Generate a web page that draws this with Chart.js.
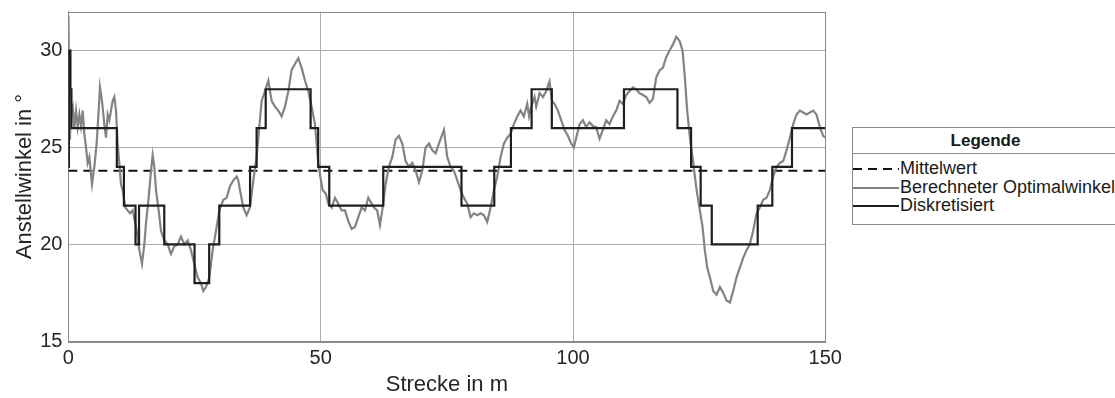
<!DOCTYPE html>
<html>
<head>
<meta charset="utf-8">
<script src="https://cdn.jsdelivr.net/npm/chart.js@4.4.1/dist/chart.umd.min.js"></script>
<style>
html,body{margin:0;padding:0;background:#fff;}
#wrap{position:relative;width:1115px;height:398px;overflow:hidden;font-family:"Liberation Sans",Arial,sans-serif;}
#c{position:absolute;left:0;top:0;}
#legend{position:absolute;left:852px;top:127px;width:275px;height:98px;border:1px solid #8c8c8c;background:#fff;box-sizing:border-box;color:#1a1a1a;}
#legend .ttl{position:absolute;left:0;right:0;top:0;height:26px;line-height:26px;text-align:center;font-weight:bold;font-size:17px;border-bottom:1px solid #8c8c8c;box-sizing:border-box;padding-right:8px;}
#legend .row{position:absolute;left:0;height:19px;line-height:19px;font-size:18px;white-space:nowrap;}
#legend .row svg{display:inline-block;vertical-align:middle;margin-right:1px;}
</style>
</head>
<body>
<div id="wrap">
<canvas id="c" width="1115" height="398"></canvas>
<div id="legend"><div class="ttl">Legende</div></div>
</div>
<script>
// ---- Data ----
const xTicks = [0, 50, 100, 150];
const yTicks = [15, 20, 25, 30];
const meanValue = 23.8;
const meanX = [0, 150];

const optX = [0, 0.15, 0.3, 0.5, 0.85, 1.18, 1.51, 1.84, 2.17, 2.5, 2.83, 3.16, 3.49, 3.82, 4.15, 4.68, 5.14, 5.6, 6.0, 6.26, 6.66, 7.12, 7.45, 7.78, 8.11, 8.44, 8.77, 9.1, 9.43, 9.76, 10.09, 10.42, 10.75, 11.28, 11.74, 12.2, 12.73, 13.4, 13.73, 14.06, 14.58, 15.05, 15.38, 15.9, 16.37, 16.7, 17.03, 17.36, 17.89, 18.35, 19.01, 19.67, 20.33, 20.99, 21.65, 22.31, 22.97, 23.63, 24.29, 24.95, 25.61, 26.27, 26.74, 27.27, 27.93, 28.59, 29.25, 29.91,
  30.7, 31.36, 32.02, 32.68, 33.34, 33.67, 34.0, 34.66, 35.32, 35.98, 36.65, 37.3, 37.83, 38.3, 38.96, 39.62, 39.95, 40.28, 40.94, 41.6, 42.26, 42.92, 43.58, 44.24, 44.9, 45.56, 46.22, 46.88, 47.54, 48.2, 48.86, 49.2, 49.52, 49.86, 50.38, 51.04, 51.5, 52.17, 52.83, 53.49, 54.15, 54.81, 55.47, 56.13, 56.79, 57.45, 58.11, 58.77, 59.43, 60.09,
  60.55, 61.2, 61.74, 62.2, 62.86, 63.52, 64.18, 64.84, 65.5, 66.16, 66.82, 67.49, 68.15, 68.81, 69.47, 70.13, 70.79, 71.45, 72.11, 72.77, 73.43, 74.42, 75.08, 75.74, 76.4, 77.06, 77.72, 78.38, 79.04, 79.7, 80.37, 81.03, 81.69, 82.35, 83.0, 83.67, 84.33, 84.99, 85.65, 86.31, 86.97, 87.63, 88.29, 88.95, 89.61, 90.27, 90.93,
  91.3, 91.72, 92.38, 92.71, 93.37, 94.03, 94.69, 95.35, 95.82, 96.34, 97.0, 97.67, 98.33, 98.99, 99.65, 100.17, 100.64, 101.3, 101.96, 102.62, 103.28, 103.94, 104.6, 105.26, 105.92, 106.58, 107.24, 107.9, 108.56, 109.22, 109.88, 110.54, 111.2, 111.87, 112.53, 113.19, 113.85, 114.51, 115.17, 115.83, 116.49, 117.15, 117.81, 118.47, 119.13, 119.79, 120.45, 121.11,
  121.71, 122.17, 122.63, 123.16, 123.69, 124.15, 124.61, 125.14, 125.67, 126.13, 126.6, 127.12, 127.79, 128.45, 129.11, 129.77, 130.43, 131.09, 131.75, 132.41, 133.07, 133.73, 134.39, 135.05, 135.71, 136.37, 137.03, 137.69, 138.35, 139.01, 139.67, 140.33, 141.0, 141.66, 142.32, 142.98, 143.64, 144.3, 144.96, 145.62, 146.28, 146.94, 147.6, 148.26, 148.92, 149.58, 150];

const optY = [31.8, 28.5, 25.4, 26.8, 27.1, 26.05, 26.9, 26.05, 26.7, 26.1, 26.9, 25.7, 25.0, 24.2, 24.5, 23.1, 24.0, 25.2, 26.9, 28.1, 27.4, 26.2, 25.5, 26.7, 26.4, 26.9, 27.4, 27.6, 26.9, 25.2, 24.2, 23.1, 22.8, 21.9, 21.75, 21.6, 21.75, 20.9, 20.4, 19.7, 19.0, 20.0, 21.1, 22.4, 23.8, 24.6, 24.0, 22.8, 21.75, 20.7, 20.2, 20.0, 19.5, 19.9, 20.0, 20.4, 20.0, 20.2, 19.7, 19.0, 18.3, 18.0, 17.6, 17.8, 18.3, 19.7, 20.7, 21.75,
  22.3, 22.4, 23.0, 23.3, 23.5, 23.3, 22.8, 21.9, 21.5, 21.9, 23.3, 24.5, 26.05, 27.4, 27.9, 28.45, 27.9, 27.4, 27.1, 26.9, 26.6, 27.1, 27.9, 29.0, 29.3, 29.6, 29.1, 28.45, 27.9, 27.1, 26.2, 25.2, 24.2, 23.6, 22.8, 22.6, 22.1, 21.9, 22.4, 22.1, 21.75, 21.75, 21.2, 20.8, 20.9, 21.4, 21.9, 21.75, 22.4, 22.1,
  21.9, 21.75, 21.0, 21.75, 23.1, 24.0, 24.5, 25.4, 25.6, 25.2, 24.3, 24.0, 24.2, 23.8, 23.2, 23.8, 25.0, 25.2, 24.85, 24.7, 25.2, 25.9, 24.5, 24.0, 23.8, 23.3, 22.8, 22.4, 22.1, 21.4, 21.6, 21.5, 21.6, 21.5, 21.15, 21.9, 22.8, 23.5, 24.5, 25.2, 25.5, 25.7, 26.2, 26.6, 26.9, 26.6, 27.25,
  26.6, 27.1, 27.6, 27.1, 27.8, 27.6, 27.9, 28.4, 27.4, 27.25, 26.9, 26.4, 25.9, 25.6, 25.2, 25.0, 25.5, 26.2, 26.4, 26.05, 26.3, 26.1, 26.05, 25.45, 25.9, 26.4, 26.2, 26.6, 26.9, 27.4, 27.25, 27.7, 27.9, 28.1, 28.0, 27.8, 27.7, 27.6, 27.3, 27.5, 28.6, 28.97, 29.1, 29.65, 30.0, 30.3, 30.7, 30.5,
  30.0, 28.6, 26.9, 25.5, 24.5, 23.5, 22.6, 21.75, 20.9, 19.7, 18.8, 18.3, 17.6, 17.4, 17.8, 17.5, 17.1, 17.0, 17.6, 18.3, 18.8, 19.3, 19.7, 20.0, 20.7, 21.6, 21.9, 22.3, 22.4, 22.8, 23.5, 24.0, 24.2, 24.3, 24.85, 25.5, 26.2, 26.7, 26.9, 26.8, 26.7, 26.8, 26.9, 26.7, 26.05, 25.6, 25.5];

const stepX = [0, 0.1, 0.4, 0.6, 9.6, 11.0, 13.3, 14.0, 19.0, 25.0, 27.9, 29.9, 36.0, 37.3, 39.1, 48.0, 49.5, 51.7, 62.4, 77.9, 84.4, 87.7, 91.8, 95.8, 110.1, 120.7, 123.4, 125.3, 127.5, 136.6, 139.5, 143.4, 150];
const stepY = [24, 30, 28, 26, 24, 22, 20, 22, 20, 18, 20, 22, 24, 26, 28, 26, 24, 22, 24, 22, 24, 26, 28, 26, 28, 26, 24, 22, 20, 22, 24, 26, 26];

const labels = ['Mittelwert', 'Berechneter Optimalwinkel', 'Diskretisiert'];

// ---- Chart ----
const FONT = '"Liberation Sans", Arial, sans-serif';
const TXT = '#262626';
const GRID = '#ababab';
const BOX = '#8a8a8a';

const boxPlugin = {
  id: 'box',
  beforeDatasetsDraw(chart) {
    const {ctx, chartArea: a} = chart;
    ctx.save();
    ctx.strokeStyle = BOX;
    ctx.lineWidth = 1;
    ctx.strokeRect(Math.round(a.left) + 0.5, Math.round(a.top) + 0.5, Math.round(a.right - a.left), Math.round(a.bottom - a.top));
    ctx.restore();
  }
};

const noPad = s => { s.paddingTop = 0; s.paddingBottom = 0; s.paddingLeft = 0; s.paddingRight = 0; };

const chart = new Chart(document.getElementById('c'), {
  type: 'line',
  data: {
    datasets: [
      { label: labels[0], data: meanX.map(x => ({x, y: meanValue})), borderColor: '#111111', borderWidth: 2, borderDash: [9, 6], pointRadius: 0, order: 2 },
      { label: labels[1], data: optX.map((x, i) => ({x, y: optY[i]})), borderColor: '#838383', borderWidth: 2.2, pointRadius: 0, tension: 0, order: 1 },
      { label: labels[2], data: stepX.map((x, i) => ({x, y: stepY[i]})), borderColor: '#1e1e1e', borderWidth: 2.2, stepped: 'before', pointRadius: 0, order: 0 }
    ]
  },
  options: {
    responsive: false,
    animation: false,
    events: [],
    layout: { padding: { left: 0, right: 1115 - 825.3, top: 11.7, bottom: 0 } },
    plugins: { legend: { display: false }, tooltip: { enabled: false } },
    scales: {
      x: {
        type: 'linear', min: 0, max: 150,
        afterBuildTicks: s => { s.ticks = xTicks.map(v => ({value: v})); },
        afterFit: s => { s.height = 398 - 341.3; noPad(s); },
        grid: { color: GRID, lineWidth: 1, drawTicks: false },
        border: { color: BOX },
        ticks: { padding: 5, maxRotation: 0, color: TXT, font: { family: FONT, size: 20 } },
        title: { display: true, text: 'Strecke in m', color: TXT, font: { family: FONT, size: 22 }, padding: { top: 0, bottom: 0 } }
      },
      y: {
        type: 'linear', min: 15, max: 32,
        afterBuildTicks: s => { s.ticks = yTicks.map(v => ({value: v})); },
        afterFit: s => { s.width = 68.4; noPad(s); },
        grid: { color: GRID, lineWidth: 1, drawTicks: false },
        border: { color: BOX },
        ticks: { padding: 6, color: TXT, font: { family: FONT, size: 20 } },
        title: { display: true, text: 'Anstellwinkel in °', color: TXT, font: { family: FONT, size: 22 }, padding: { top: 12, bottom: 0 } }
      }
    }
  },
  plugins: [boxPlugin]
});

// ---- Legend (HTML, built from the datasets) ----
const leg = document.getElementById('legend');
chart.data.datasets.forEach((ds, i) => {
  const row = document.createElement('div');
  row.className = 'row';
  row.style.top = (31 + i * 18.5) + 'px';
  const svgNS = 'http://www.w3.org/2000/svg';
  const svg = document.createElementNS(svgNS, 'svg');
  svg.setAttribute('width', '46'); svg.setAttribute('height', '10');
  const ln = document.createElementNS(svgNS, 'line');
  ln.setAttribute('x1', '0'); ln.setAttribute('x2', '46'); ln.setAttribute('y1', '5'); ln.setAttribute('y2', '5');
  ln.setAttribute('stroke', ds.borderColor);
  ln.setAttribute('stroke-width', ds.borderWidth);
  if (ds.borderDash) ln.setAttribute('stroke-dasharray', '9 6');
  svg.appendChild(ln);
  row.appendChild(svg);
  const sp = document.createElement('span');
  sp.textContent = ds.label;
  row.appendChild(sp);
  leg.appendChild(row);
});
</script>
</body>
</html>
